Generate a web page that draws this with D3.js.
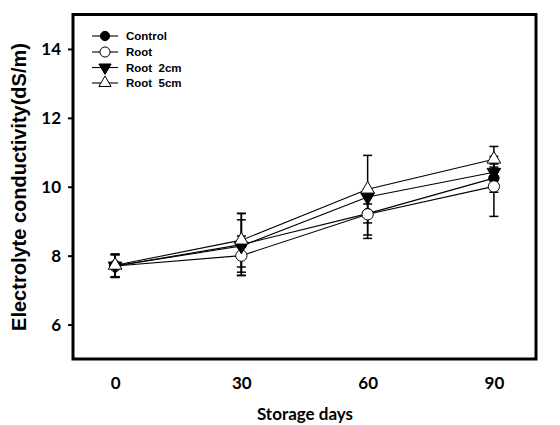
<!DOCTYPE html>
<html><head><meta charset="utf-8">
<script src="https://cdn.jsdelivr.net/npm/d3@7"></script>
<style>body{margin:0;background:#fff}svg{display:block}</style>
</head><body>
<script>
const days = [0, 30, 60, 90];
const xTicks = [0, 30, 60, 90];
const yTicks = [6, 8, 10, 12, 14];
const seriesNames = ["Control", "Root", "Root  2cm", "Root  5cm"];
const control = [7.70, 8.32, 9.22, 10.25];
const controlErr = [0.33, 0.90, 0.62, 0.41];
const root = [7.70, 8.00, 9.20, 10.01];
const rootErr = [0.33, 0.57, 0.70, 0.87];
const root2 = [7.70, 8.28, 9.70, 10.42];
const root2Err = [0.33, 0.76, 0.20, 0.15];
const root5 = [7.72, 8.45, 9.93, 10.80];
const root5Err = [0.33, 0.78, 0.98, 0.37];

const W = 560, H = 425;
const svg = d3.select("body").append("svg").attr("width", W).attr("height", H);
const x = d3.scaleLinear().domain([-10, 100]).range([73, 536]);
const y = d3.scaleLinear().domain([5, 15]).range([359, 14.5]);

const series = [
  {name: seriesNames[0], vals: control, err: controlErr, sym: d3.symbolCircle, fill: "#000", size: 85},
  {name: seriesNames[1], vals: root, err: rootErr, sym: d3.symbolCircle, fill: "#fff", size: 100},
  {name: seriesNames[2], vals: root2, err: root2Err, sym: "down", fill: "#000", size: 80},
  {name: seriesNames[3], vals: root5, err: root5Err, sym: d3.symbolTriangle, fill: "#fff", size: 80}
];

function symPath(s, size) {
  if (s.sym === "down") return d3.symbol().type(d3.symbolTriangle).size(size)();
  return d3.symbol().type(s.sym).size(size)();
}
function symTransform(s, cx, cy) {
  return s.sym === "down" ? `translate(${cx},${cy}) rotate(180)` : `translate(${cx},${cy})`;
}

// y axis ticks
const yAxis = d3.axisLeft(y).tickValues(yTicks).tickSize(5).tickPadding(7).tickFormat(d3.format("d"));
const ga = svg.append("g").attr("transform", "translate(73,0)").call(yAxis);
ga.select(".domain").remove();
ga.selectAll(".tick line").attr("stroke", "#000").attr("stroke-width", 2);
ga.selectAll(".tick text").attr("font-family", "Lato, 'Open Sans', sans-serif").attr("font-weight", "bold")
  .attr("font-size", 17).attr("fill", "#000");

// x axis labels (no ticks)
const xAxis = d3.axisBottom(x).tickValues(xTicks).tickSize(0).tickPadding(18);
const gx = svg.append("g").attr("transform", "translate(0,359)").call(xAxis);
gx.select(".domain").remove();
gx.selectAll(".tick text").attr("font-family", "Lato, 'Open Sans', sans-serif").attr("font-weight", "bold")
  .attr("font-size", 17).attr("fill", "#000");

// error bars
const capW = 4.5;
series.forEach(s => {
  const g = svg.append("g");
  s.vals.forEach((v, i) => {
    const cx = x(days[i]), hi = y(v + s.err[i]), lo = y(v - s.err[i]);
    g.append("line").attr("x1", cx).attr("x2", cx).attr("y1", hi).attr("y2", lo).attr("stroke", "#000").attr("stroke-width", 1.5);
    [hi, lo].forEach(yy => g.append("line").attr("x1", cx - capW).attr("x2", cx + capW).attr("y1", yy).attr("y2", yy)
      .attr("stroke", "#000").attr("stroke-width", 1.5));
  });
});

// lines
const line = d3.line().x((d, i) => x(days[i])).y(d => y(d));
series.forEach(s => {
  svg.append("path").attr("d", line(s.vals)).attr("fill", "none").attr("stroke", "#000").attr("stroke-width", 1.1);
});

// markers
series.forEach(s => {
  s.vals.forEach((v, i) => {
    svg.append("path").attr("d", symPath(s, s.size)).attr("transform", symTransform(s, x(days[i]), y(v)))
      .attr("fill", s.fill).attr("stroke", "#000").attr("stroke-width", 1);
  });
});

// frame
svg.append("rect").attr("x", 73).attr("y", 14.5).attr("width", 536 - 73).attr("height", 359 - 14.5)
  .attr("fill", "none").attr("stroke", "#000").attr("stroke-width", 3);

// legend
const legY = [36, 52, 67.5, 83];
series.forEach((s, i) => {
  const g = svg.append("g");
  g.append("line").attr("x1", 92).attr("x2", 118).attr("y1", legY[i]).attr("y2", legY[i]).attr("stroke", "#000").attr("stroke-width", 1.1);
  g.append("path").attr("d", symPath(s, s.size * 0.8)).attr("transform", symTransform(s, 105, legY[i]))
    .attr("fill", s.fill).attr("stroke", "#000").attr("stroke-width", 1);
  g.append("text").attr("x", 126).attr("y", legY[i] + 4).attr("font-family", "'Liberation Sans', Arial, sans-serif")
    .attr("font-weight", "bold").attr("font-size", 11.5).attr("fill", "#000").style("white-space", "pre").text(s.name);
});

// axis titles
svg.append("text").attr("transform", "translate(26,187) rotate(-90)").attr("text-anchor", "middle")
  .attr("font-family", "'Liberation Sans', Arial, sans-serif").attr("font-weight", "bold").attr("font-size", 20)
  .attr("fill", "#000").text("Electrolyte conductivity(dS/m)");
svg.append("text").attr("x", 305).attr("y", 420).attr("text-anchor", "middle")
  .attr("font-family", "Lato, 'Open Sans', sans-serif").attr("font-weight", "bold").attr("font-size", 17)
  .attr("fill", "#000").text("Storage days");
</script>
</body></html>
